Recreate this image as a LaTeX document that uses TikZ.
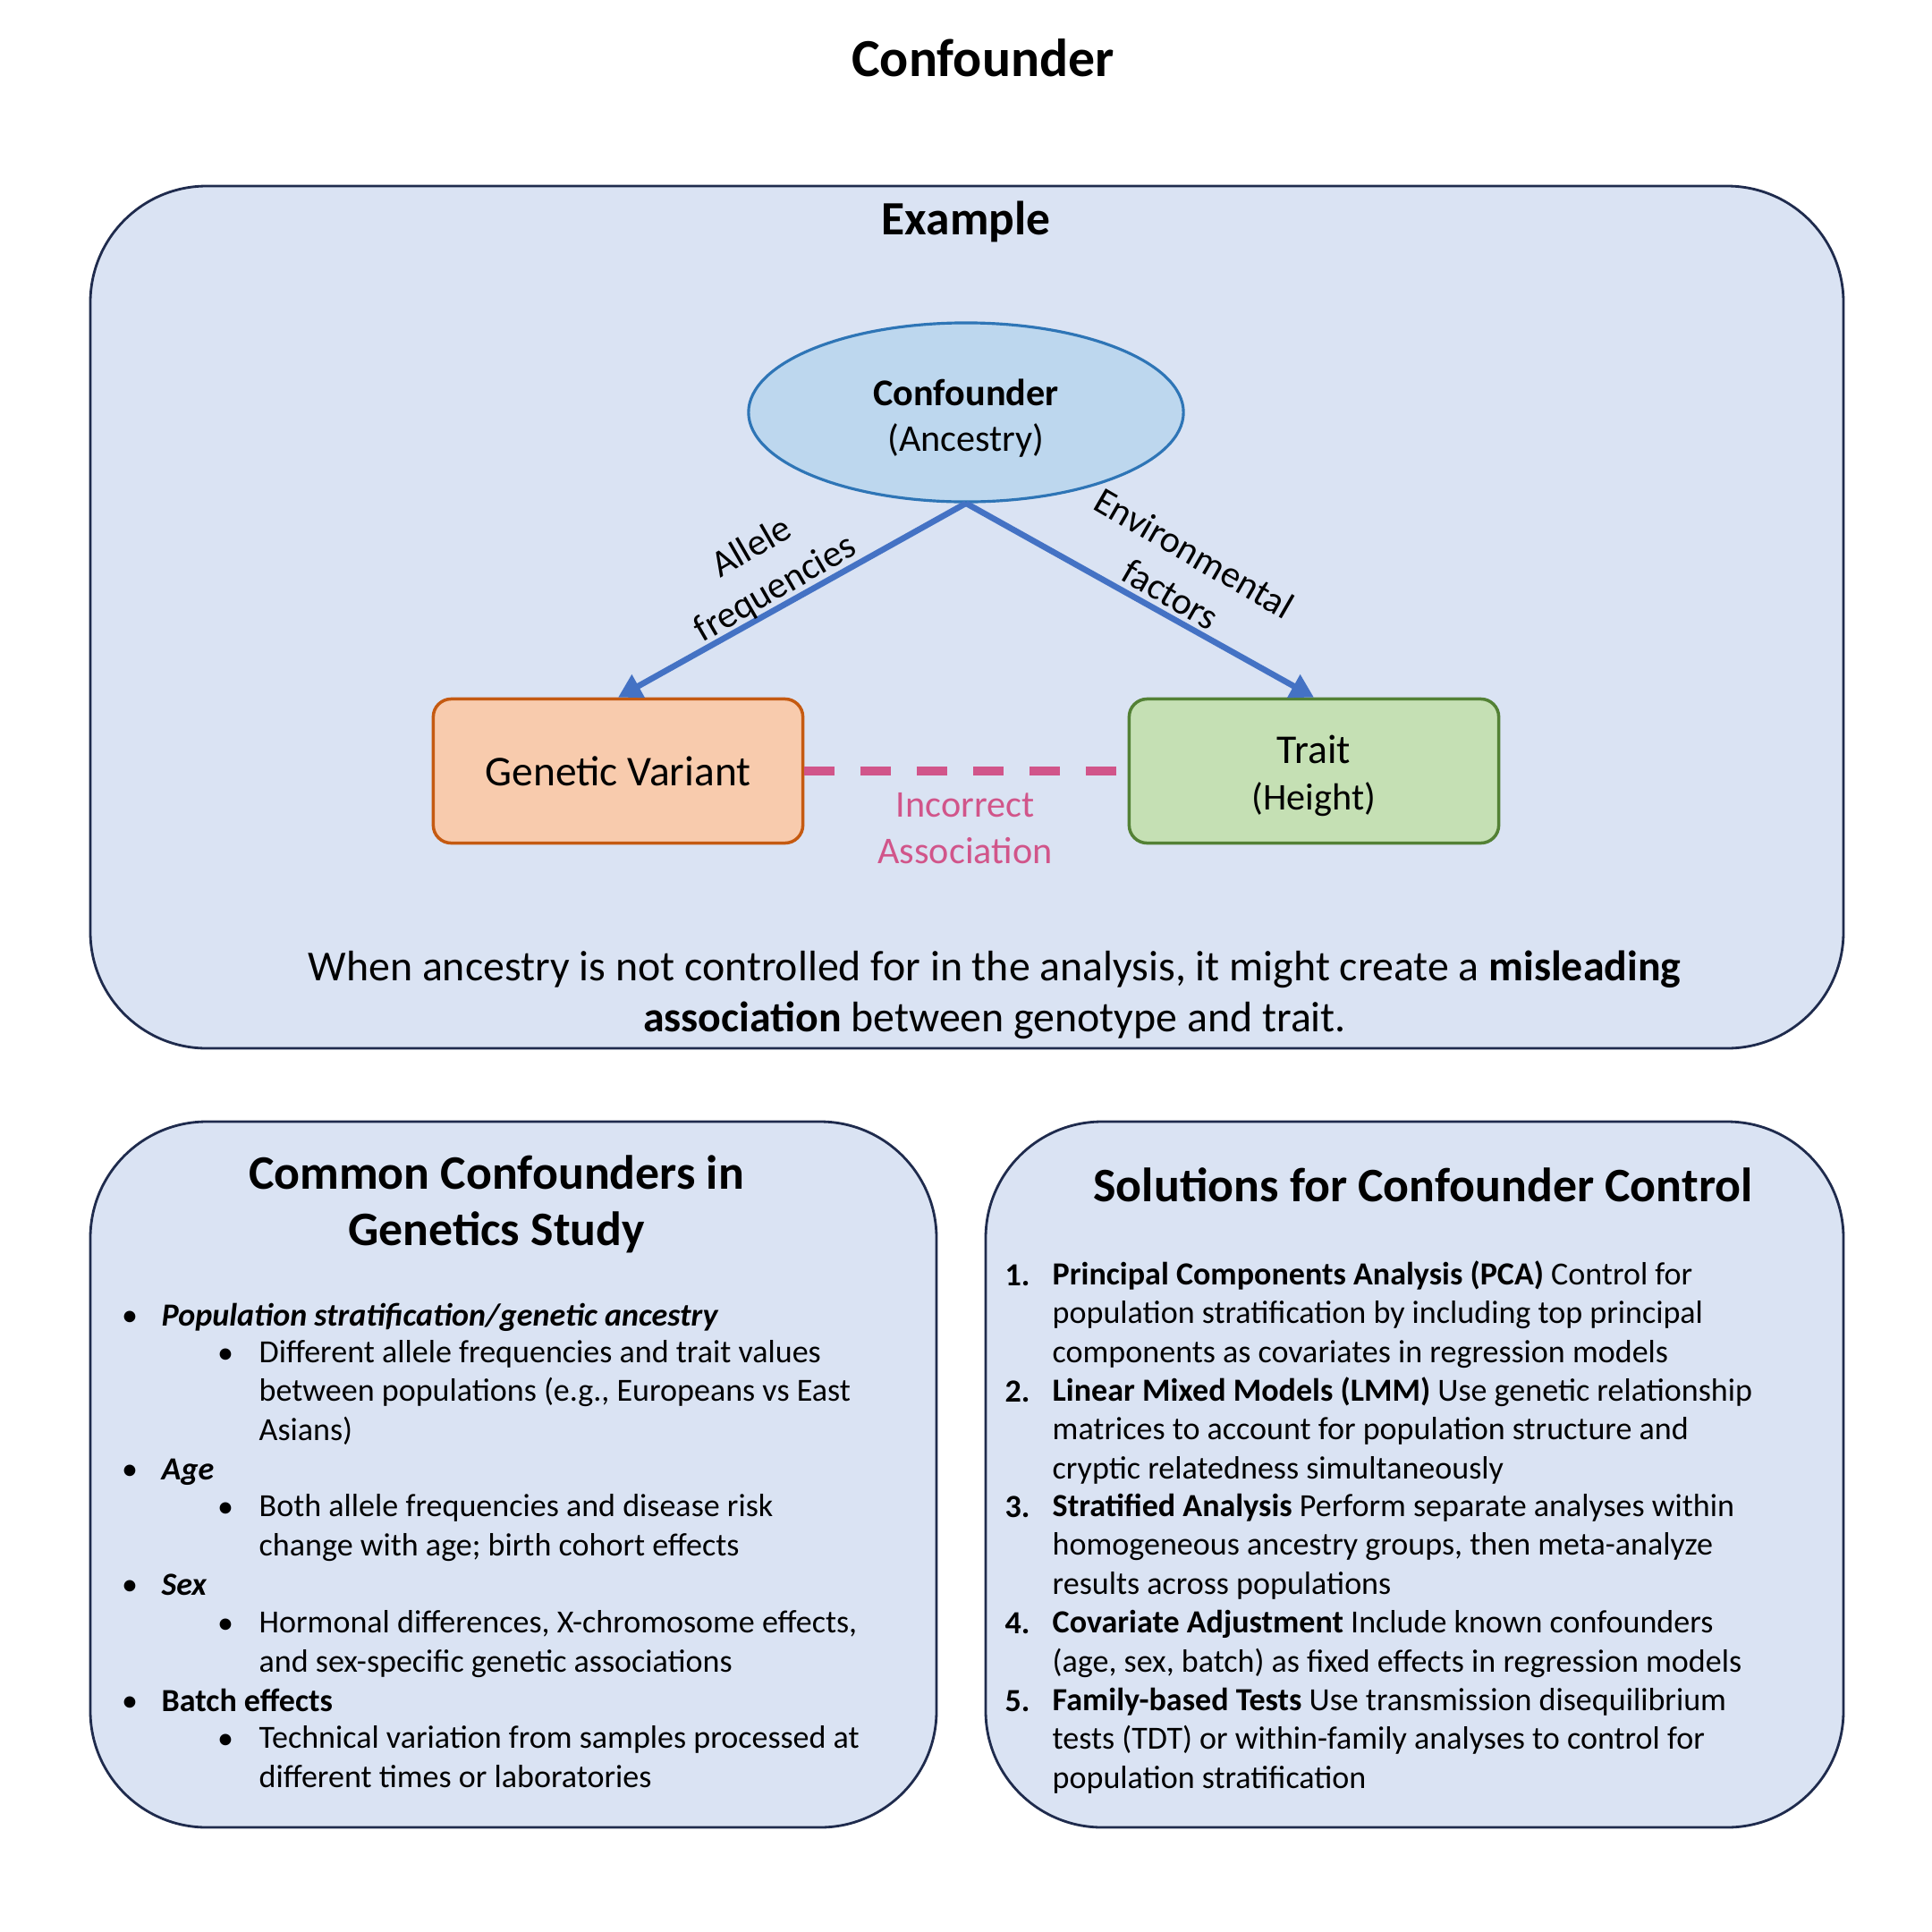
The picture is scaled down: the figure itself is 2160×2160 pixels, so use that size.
\documentclass[tikz,border=0pt]{standalone}
\usepackage{fontspec}
\setmainfont{Carlito}
\usetikzlibrary{arrows.meta,shapes.geometric,positioning}

\definecolor{panelfill}{HTML}{DAE3F3}
\definecolor{paneldraw}{HTML}{1F2B4D}
\definecolor{ancfill}{HTML}{BDD7EE}
\definecolor{ancdraw}{HTML}{2E75B6}
\definecolor{varfill}{HTML}{F8CBAD}
\definecolor{vardraw}{HTML}{C55A11}
\definecolor{traitfill}{HTML}{C5E0B4}
\definecolor{traitdraw}{HTML}{538135}
\definecolor{arrowblue}{HTML}{4472C4}
\definecolor{assoc}{HTML}{D1558A}

\newcommand\bodyfont{\fontsize{10.25}{12.3}\selectfont}

\begin{document}
\begin{tikzpicture}[x=0.01cm,y=-0.01cm,
    panel/.style={draw=paneldraw,fill=panelfill,line width=0.8pt,rounded corners=1.3cm},
    box/.style={rectangle,rounded corners=0.2cm,line width=1pt,minimum width=4.13cm,minimum height=1.61cm,align=center},
    cause/.style={-{Triangle[length=7.4pt,width=8pt]},draw=arrowblue,line width=1.9pt},
    lbl/.style={align=center,font=\fontsize{12}{15}\selectfont},
    head/.style={align=center,font=\fontsize{15.3}{18}\selectfont\bfseries},
    lvlone/.style={anchor=base west,inner sep=0,font=\bodyfont\bfseries\itshape},
    lvltwo/.style={anchor=base west,inner sep=0,align=left,font=\bodyfont},
    entry/.style={anchor=base west,inner sep=0,align=left,font=\bodyfont},
    dot/.style={anchor=base,inner sep=0,font=\bodyfont}]

  \fill[white] (0,0) rectangle (2160,2160);
  \useasboundingbox (0,0) rectangle (2160,2160);

  \node (title) [font=\fontsize{17}{20}\selectfont\bfseries] at (1099,65) {Confounder};

  % example panel
  \draw[panel] (101,208) rectangle (2061,1172);
  \node (exhead) [font=\fontsize{15.2}{18}\selectfont\bfseries] at (1080,248) {Example};

  \node (conf) [ellipse,draw=ancdraw,fill=ancfill,line width=0.9pt,minimum width=4.86cm,minimum height=2cm,
    inner sep=0] at (1080,461) {};
  \node (conflbl) [align=center,font=\fontsize{12}{14.5}\selectfont] at ([yshift=-2pt]conf.center)
    {\textbf{Confounder}\\(Ancestry)};
  \node (gv) [box,draw=vardraw,fill=varfill,font=\fontsize{13.5}{16}\selectfont] at (691,862) {Genetic Variant};
  \node (trait) [box,draw=traitdraw,fill=traitfill] at (1469,862) {};
  \node (traitlbl) [align=center,font=\fontsize{12}{15}\selectfont] at ([yshift=-1.5pt]trait.center)
    {{\fontsize{13}{15}\selectfont Trait}\\(Height)};

  \draw[cause] (conf.south) -- (gv.north);
  \draw[cause] (conf.south) -- (trait.north);
  \draw[draw=assoc,line width=2.6pt,dash pattern=on 9.6pt off 8.3pt] (gv.east) -- (trait.west);

  \node (allele) [lbl,rotate=30] at (854,636) {Allele\\frequencies};
  \node (env) [lbl,rotate=-30] at (1322,641) {Environmental\\factors};
  \node (wrong) [lbl,text=assoc] at (1079,926) {Incorrect\\Association};

  \node (note) [align=center,font=\fontsize{13.6}{16.2}\selectfont] at (1112,1112)
    {When ancestry is not controlled for in the analysis, it might create a \textbf{misleading}\\
     \textbf{association} between genotype and trait.};

  % common confounders
  \draw[panel] (101,1254) rectangle (1047,2043);
  \node (commonhead) [head] at (555,1346) {Common Confounders in\\Genetics Study};

  \foreach \x/\y in {145/1482,252/1524,145/1654,252/1696,145/1783,252/1826,145/1913,252/1955}
    \node (bul\y) [dot] at (\x,\y) {\textbullet};

  \node (pop) [lvlone] at (180,1482) {Population stratification/genetic ancestry};
  \node (popnote) [lvltwo] at (289,1610) {Different allele frequencies and trait values\\
    between populations (e.g., Europeans vs East\\Asians)};
  \node (age) [lvlone] at (180,1654) {Age};
  \node (agenote) [lvltwo] at (289,1739) {Both allele frequencies and disease risk\\
    change with age; birth cohort effects};
  \node (sex) [lvlone] at (180,1783) {Sex};
  \node (sexnote) [lvltwo] at (289,1869) {Hormonal differences, X-chromosome effects,\\
    and sex-specific genetic associations};
  \node (batch) [lvlone,font=\bodyfont\bfseries] at (180,1913) {Batch effects};
  \node (batchnote) [lvltwo] at (289,1998) {Technical variation from samples processed at\\
    different times or laboratories};

  % solutions
  \draw[panel] (1102,1254) rectangle (2061,2043);
  \node (solhead) [head] at (1591,1325) {Solutions for Confounder Control};

  \foreach \n/\y in {1/1437,2/1567,3/1696,4/1826,5/1913}
    \node (num\n) [entry,font=\bodyfont\bfseries] at (1123,\y) {\n.};

  \node (pca) [entry] at (1176,1523) {\textbf{Principal Components Analysis (PCA)} Control for\\
    population stratification by including top principal\\
    components as covariates in regression models};
  \node (lmm) [entry] at (1176,1653) {\textbf{Linear Mixed Models (LMM)} Use genetic relationship\\
    matrices to account for population structure and\\
    cryptic relatedness simultaneously};
  \node (strat) [entry] at (1176,1782) {\textbf{Stratified Analysis} Perform separate analyses within\\
    homogeneous ancestry groups, then meta-analyze\\
    results across populations};
  \node (covar) [entry] at (1176,1869) {\textbf{Covariate Adjustment} Include known confounders\\
    (age, sex, batch) as fixed effects in regression models};
  \node (fam) [entry] at (1176,1999) {\textbf{Family-based Tests} Use transmission disequilibrium\\
    tests (TDT) or within-family analyses to control for\\
    population stratification};

\end{tikzpicture}
\end{document}
